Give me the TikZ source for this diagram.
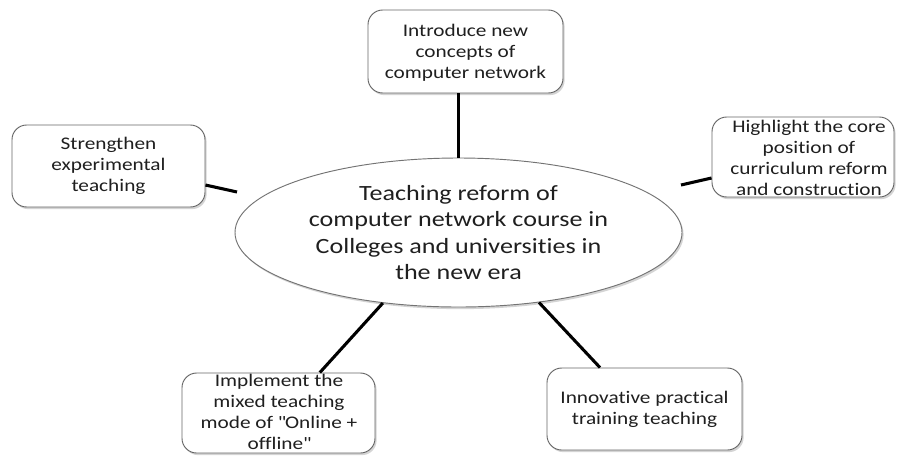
\documentclass[tikz,border=0pt]{standalone}
\usepackage{fontspec}
\setmainfont{Carlito}[FakeStretch=1.2, Ligatures=NoCommon]
\usetikzlibrary{shapes.geometric,shadows}
\begin{document}
\begin{tikzpicture}[x=0.75pt,y=-0.75pt,
  topic/.style={draw=black!60, line width=0.7pt, rounded corners=11pt, fill=white, inner sep=0pt,
    drop shadow={shadow xshift=1.2pt, shadow yshift=-1.6pt, opacity=0.3, fill=black!55}},
  hubshape/.style={ellipse, draw=black!55, line width=0.7pt, fill=white, inner sep=0pt,
    drop shadow={shadow xshift=1.2pt, shadow yshift=-1.6pt, opacity=0.3, fill=black!55}},
  boxtxt/.style={align=center, inner sep=0pt, text=black!88, font=\fontsize{13.3}{15.75}\selectfont},
  hubtxt/.style={align=center, inner sep=0pt, text=black!88, font=\fontsize{16.3}{19.7}\selectfont},
  link/.style={line width=2.3pt, black}]
\useasboundingbox[fill=white] (0,0) rectangle (898,455);

% central ellipse
\node[hubshape, minimum width=335.25pt, minimum height=111.75pt] (hub) at (458.5,232.5) {};
\node[hubtxt] (thub) at (458.5,232.5) {Teaching reform of\\computer network course in\\Colleges and universities in\\the new era};

% boxes
\node[topic, minimum width=146.25pt, minimum height=62.25pt] (top) at (465.5,51.5) {};
\node[boxtxt] (ttop) at (465.5,53) {Introduce new\\concepts of\\computer network};

\node[topic, minimum width=144.75pt, minimum height=61.5pt] (lft) at (108.5,166) {};
\node[boxtxt] (tlft) at (108.5,166) {Strengthen\\experimental\\teaching};

\node[topic, minimum width=136.5pt, minimum height=60pt] (rgt) at (803,157) {};
\node[boxtxt] (trgt) at (809,158) {Highlight the core\\position of\\curriculum reform\\and construction};

\node[topic, minimum width=144.75pt, minimum height=60pt] (bl) at (278.5,413) {};
\node[boxtxt] (tbl) at (279,412) {Implement the\\mixed teaching\\mode of \textquotedbl Online +\\offline\textquotedbl};

\node[topic, minimum width=146.25pt, minimum height=61.5pt] (br) at (644.5,409) {};
\node[boxtxt] (tbr) at (644.5,409) {Innovative practical\\training teaching};

% free ends
\coordinate (lend) at (237,192);
\coordinate (rend) at (681,185);

% connectors
\draw[link] (hub.north |- top.south) -- (hub.north);
\draw[link] ([yshift=-14.25pt]lft.east) -- (lend);
\draw[link] (rend) -- ([yshift=-15.75pt]rgt.west);
\draw[link] (hub.223) -- ([xshift=31pt]bl.north);
\draw[link] (hub.319) -- ([xshift=-33.4pt]br.north);
\end{tikzpicture}
\end{document}
